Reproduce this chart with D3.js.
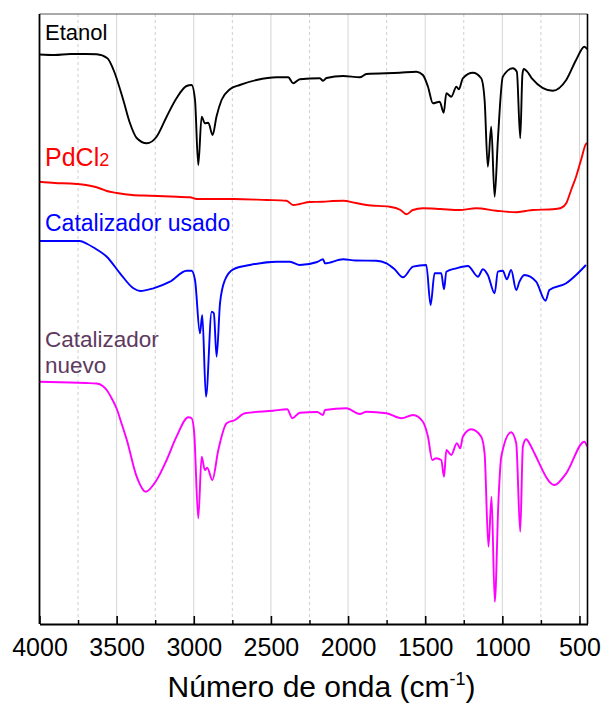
<!DOCTYPE html>
<html><head><meta charset="utf-8">
<script src="https://cdn.jsdelivr.net/npm/d3@7"></script>
<style>body{margin:0;background:#fff}svg{display:block;font-family:"Liberation Sans",Arial,sans-serif}</style>
</head><body><svg id="c" width="603" height="704"></svg>
<script>
// Wavenumber / transmittance (a.u., vertically offset spectra)
const etanol = [[4000,569.5],[3900,569],[3800,570],[3700,570],[3629,569.7],[3560,565.7],[3520,554],[3457,524],[3414,501],[3370,486],[3305,480.7],[3241,487.3],[3176,507.3],[3112,525.7],[3047,538],[3014,539],[2992,524],[2971,459],[2949,507.3],[2928,500.7],[2906,501.3],[2878,489],[2853,507.3],[2820,524],[2766,534.7],[2702,539],[2593,544],[2463,546.7],[2388,546.7],[2356,540.7],[2313,544.7],[2183,545.7],[2162,543.3],[2140,546],[2032,548],[1924,546.7],[1881,550],[1665,551.3],[1557,552.3],[1515,549],[1482,537.3],[1450,520.7],[1406,522.3],[1380,511.3],[1363,530.7],[1331,527.3],[1298,537.3],[1282,534.7],[1256,545.7],[1191,551.3],[1137,545.7],[1115,524],[1094,457.3],[1072,497.3],[1050,427.3],[1029,484],[997,547.3],[932,555.7],[906,552.3],[884,485.7],[870,549],[862,555],[830,550.7],[809,545.7],[673,533.3],[586,544],[522,564],[468,577.3],[450,574.7]];
const pdcl2 = [[4000,442.3],[3900,441],[3800,440.5],[3758,440],[3700,439],[3650,437.5],[3607,435.5],[3564,433],[3499,431],[3400,429],[3284,428.3],[3150,427.5],[3025,426.7],[2981,425],[2850,425],[2744,425],[2528,424],[2399,423.3],[2356,419],[2313,420],[2250,422],[2162,422.3],[2100,423],[2032,423.3],[1950,421],[1881,419],[1730,417.3],[1660,414],[1622,409.7],[1580,414],[1515,415.7],[1400,415],[1277,414],[1169,415.7],[1040,413.3],[910,411.7],[850,413],[802,414],[673,414.7],[620,416],[586,420.7],[554,434],[522,447.3],[490,464],[458,480],[450,481]];
const usado = [[4000,383],[3850,383],[3740,383],[3690,380],[3650,376.5],[3564,367.3],[3478,350.7],[3391,335.7],[3348,333],[3262,335.7],[3154,342.3],[3046,353.3],[3014,353.3],[2992,344],[2960,290.7],[2945,309],[2921,227.3],[2884,312.3],[2870,310.7],[2852,267.3],[2830,320.7],[2798,344],[2744,354.7],[2636,359],[2463,362.3],[2377,362.3],[2313,359],[2200,362],[2162,364.7],[2150,360.7],[2032,364.7],[1950,363.5],[1816,363.3],[1751,360.7],[1700,355],[1644,346.7],[1579,357.3],[1493,359],[1465,319],[1439,350.7],[1396,350.7],[1378,334.7],[1363,352.3],[1298,355.7],[1223,358],[1158,347.3],[1126,354.7],[1094,349],[1050,330.7],[1029,352.3],[997,353.3],[971,344.7],[943,354],[910,334],[889,342.3],[857,349],[781,342.3],[720,323.3],[695,334],[586,340.7],[522,349],[458,359]];
const nuevo = [[4000,242.3],[3800,241.5],[3700,241],[3630,240.5],[3590,238],[3560,233],[3530,225],[3499,215],[3467,200],[3434,184],[3370,147.3],[3312,132.3],[3241,144],[3176,164],[3112,187.3],[3035,206.7],[3014,205.7],[2997,190.7],[2971,105.7],[2949,167.3],[2928,154],[2913,156.3],[2880,144],[2841,174],[2787,200.7],[2733,204],[2669,210.7],[2485,213.3],[2395,214.7],[2360,205.7],[2313,211.3],[2200,212],[2162,209],[2150,214],[2011,215.7],[1924,210],[1881,212.3],[1751,210.7],[1654,205.7],[1579,209],[1515,202.3],[1482,187.3],[1454,164],[1430,165.7],[1396,164],[1378,147.3],[1363,174],[1331,169],[1295,180.7],[1273,175.7],[1256,187.3],[1202,194.7],[1137,187.3],[1115,170.7],[1090,77.3],[1070,127.3],[1049,22.3],[1025,124],[1007,167.3],[943,191.7],[910,180.7],[884,92.3],[867,177.3],[846,184.7],[813,177.3],[792,170.7],[662,139],[586,150.7],[468,182.3],[450,177.3]];
const majorTicks = [4000,3500,3000,2500,2000,1500,1000,500];
const minorTicks = [3750,3250,2750,2250,1750,1250,750];
const series = [
  {name:"Etanol", data:etanol, color:"#000000"},
  {name:"PdCl2", data:pdcl2, color:"#ff0000"},
  {name:"Catalizador usado", data:usado, color:"#0000ff"},
  {name:"Catalizador nuevo", data:nuevo, color:"#ff00ff"}
];

const svg = d3.select("#c");
const L=39.5, R=587.5, T=14, B=624;
const x = d3.scaleLinear().domain([4000,448]).range([L,R]);
const y = d3.scaleLinear().domain([0,610]).range([B,T]);

// gridlines
svg.append("g").selectAll("line").data(majorTicks.filter(d=>d!==4000)).join("line")
  .attr("x1",d=>x(d)).attr("x2",d=>x(d)).attr("y1",T).attr("y2",B)
  .attr("stroke","#d4d4d4").attr("stroke-width",1);
svg.append("g").selectAll("line").data(minorTicks).join("line")
  .attr("x1",d=>x(d)).attr("x2",d=>x(d)).attr("y1",T).attr("y2",B)
  .attr("stroke","#cfcfcf").attr("stroke-width",1).attr("stroke-dasharray","3,3");

// spectra
const line = d3.line().x(d=>x(d[0])).y(d=>y(d[1])).curve(d3.curveMonotoneX);
svg.append("g").selectAll("path").data(series).join("path")
  .attr("d",d=>line(d.data)).attr("fill","none")
  .attr("stroke",d=>d.color).attr("stroke-width",1.9).attr("stroke-linejoin","round");

// frame
svg.append("line").attr("x1",L).attr("x2",R).attr("y1",T).attr("y2",T).attr("stroke","#555").attr("stroke-width",1);
svg.append("line").attr("x1",R).attr("x2",R).attr("y1",T).attr("y2",B).attr("stroke","#000").attr("stroke-width",1.6);
svg.append("line").attr("x1",L).attr("x2",L).attr("y1",T).attr("y2",B).attr("stroke","#000").attr("stroke-width",1.8);

// bottom axis
const ax = svg.append("g").attr("transform",`translate(0,${B})`)
  .call(d3.axisBottom(x).tickValues(majorTicks).tickSizeInner(-8).tickSizeOuter(0).tickPadding(14).tickFormat(d3.format("d")));
ax.select(".domain").attr("stroke","#000").attr("stroke-width",1.8);
ax.selectAll(".tick line").attr("stroke","#000").attr("stroke-width",1.6);
ax.selectAll("text").attr("font-size",25).attr("fill","#000").attr("font-family","'Liberation Sans',Arial,sans-serif");
const axm = svg.append("g").attr("transform",`translate(0,${B})`)
  .call(d3.axisBottom(x).tickValues(minorTicks).tickSizeInner(-4).tickSizeOuter(0).tickFormat(""));
axm.select(".domain").remove();
axm.selectAll(".tick line").attr("stroke","#000").attr("stroke-width",1.4);

// axis title
const t = svg.append("text").attr("x",(L+R)/2+8).attr("y",697).attr("text-anchor","middle")
  .attr("font-size",30).attr("fill","#000");
t.append("tspan").text("Número de onda (cm");
t.append("tspan").attr("dy",-12).attr("font-size",18).text("-1");
t.append("tspan").attr("dy",12).text(")");

// labels
svg.append("text").attr("x",45).attr("y",40).attr("font-size",22).attr("fill","#000").text("Etanol");
const p = svg.append("text").attr("x",45).attr("y",166).attr("font-size",25).attr("fill","#ff0000");
p.append("tspan").text("PdCl");
p.append("tspan").attr("font-size",18).text("2");
svg.append("text").attr("x",45).attr("y",230.5).attr("font-size",23).attr("fill","#0000ff").text("Catalizador usado");
const n = svg.append("text").attr("font-size",22.5).attr("fill","#5e3a60");
n.append("tspan").attr("x",45).attr("y",346.5).text("Catalizador");
n.append("tspan").attr("x",45).attr("y",373).text("nuevo");
</script></body></html>
